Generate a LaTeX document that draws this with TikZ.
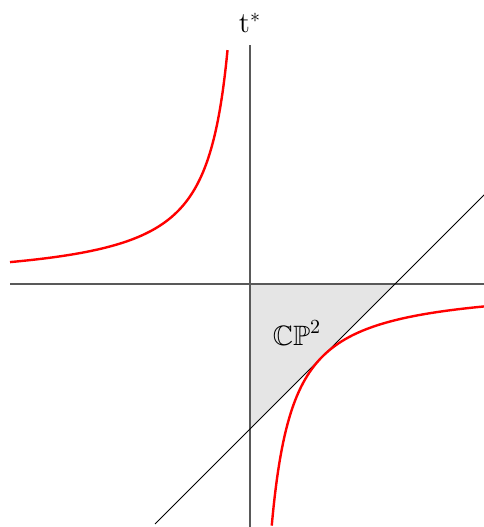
\documentclass[tikz,border=0pt]{standalone}
\usepackage{amssymb}
\begin{document}
\begin{tikzpicture}[x=72.5pt,y=72.5pt,
  axis/.style={draw=black!65,line width=0.7pt},
  diag/.style={draw=black,line width=0.5pt},
  curve/.style={draw=red,line width=1.2pt},
  region/.style={fill=gray!20}]
\useasboundingbox (-1.7241,-1.6759) rectangle (1.6138,1.9586);
\coordinate (O) at (0,0);
\coordinate (A) at (1,0);
\coordinate (B) at (0,-1);
\fill[region] (O) -- (A) -- (B) -- cycle;
\coordinate (xl) at (-1.655,0);
\coordinate (xr) at (1.62,0);
\coordinate (yt) at (0,1.648);
\coordinate (yb) at (0,-1.68);
\draw[axis] (xl) -- (xr);
\draw[axis] (yb) -- (yt);
\coordinate (dl) at (-0.655,-1.655);
\coordinate (dr) at (1.62,0.62);
\draw[diag] (dl) -- (dr);
\draw[curve] plot[domain=-1.655:-0.152,samples=200,smooth] (\x,{-0.25/\x});
\draw[curve] plot[domain=0.150:1.62,samples=200,smooth] (\x,{-0.25/\x});
\node[font=\fontsize{14.5}{17}\selectfont] (t) at (0.0,1.8) {t$^*$};
\node[font=\fontsize{14}{17}\selectfont] (cp) at (0.324,-0.338) {$\mathbb{CP}^2$};
\end{tikzpicture}
\end{document}
